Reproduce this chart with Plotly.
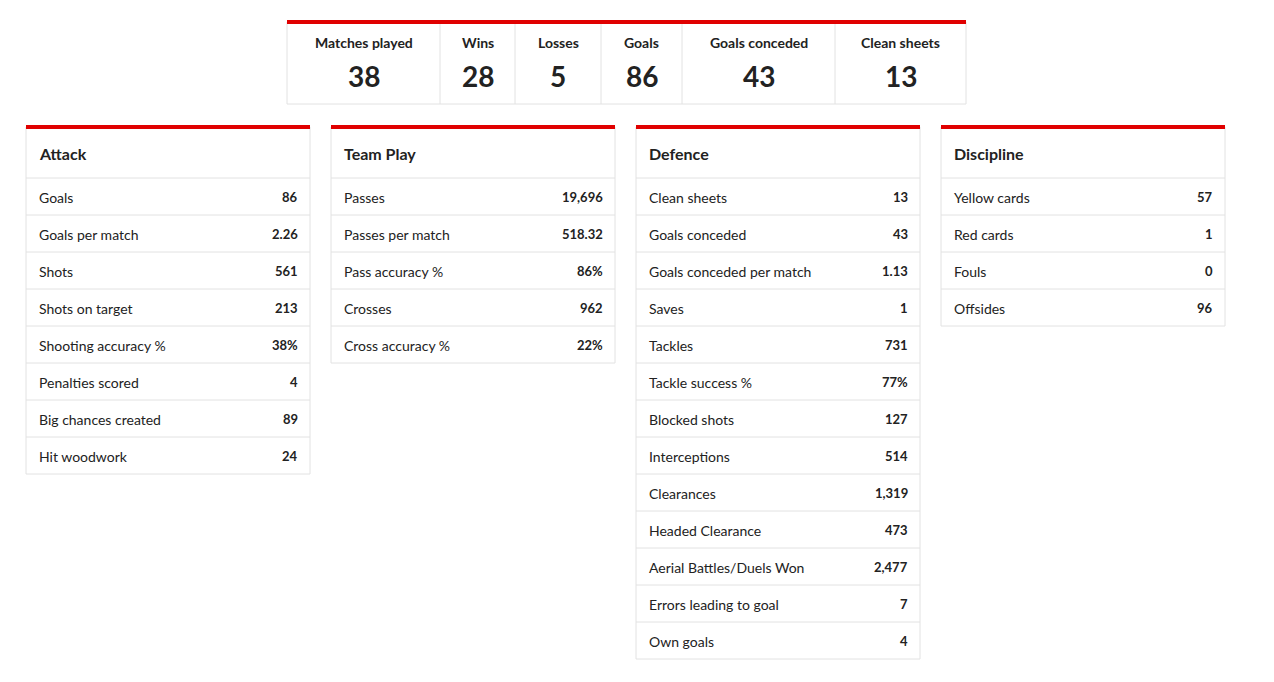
import plotly.graph_objects as go

W, H = 1274, 682

summary_labels = ["Matches played", "Wins", "Losses", "Goals", "Goals conceded", "Clean sheets"]
summary_values = ["38", "28", "5", "86", "43", "13"]
summary_edges = [279, 432, 507, 593, 674, 827, 958]

panel_titles = ["Attack", "Team Play", "Defence", "Discipline"]
attack_labels = ["Goals", "Goals per match", "Shots", "Shots on target", "Shooting accuracy %",
                 "Penalties scored", "Big chances created", "Hit woodwork"]
attack_values = ["86", "2.26", "561", "213", "38%", "4", "89", "24"]
teamplay_labels = ["Passes", "Passes per match", "Pass accuracy %", "Crosses", "Cross accuracy %"]
teamplay_values = ["19,696", "518.32", "86%", "962", "22%"]
defence_labels = ["Clean sheets", "Goals conceded", "Goals conceded per match", "Saves", "Tackles",
                  "Tackle success %", "Blocked shots", "Interceptions", "Clearances",
                  "Headed Clearance", "Aerial Battles/Duels Won", "Errors leading to goal", "Own goals"]
defence_values = ["13", "43", "1.13", "1", "731", "77%", "127", "514", "1,319", "473", "2,477", "7", "4"]
discipline_labels = ["Yellow cards", "Red cards", "Fouls", "Offsides"]
discipline_values = ["57", "1", "0", "96"]

panels = [(attack_labels, attack_values), (teamplay_labels, teamplay_values),
          (defence_labels, defence_values), (discipline_labels, discipline_values)]
panel_x = [18, 323, 628, 933]
panel_w = 284

RED = "#e00000"
GRID = "#e2e2e2"
TXT = "#222222"
FONT = "Lato"

fig = go.Figure()
shapes = []
ann = []

# summary strip
shapes.append(dict(type="rect", x0=279, x1=958, y0=14, y1=96, line=dict(color=GRID, width=1)))
shapes.append(dict(type="rect", x0=279, x1=958, y0=12, y1=16, fillcolor=RED, line_width=0))
for i, (lab, val) in enumerate(zip(summary_labels, summary_values)):
    x0, x1 = summary_edges[i], summary_edges[i + 1]
    if i > 0:
        shapes.append(dict(type="line", x0=x0, x1=x0, y0=16, y1=96, line=dict(color=GRID, width=1)))
    cx = (x0 + x1) / 2
    ann.append(dict(x=cx, y=34, text=f"<b>{lab}</b>", font=dict(size=14, color=TXT, family=FONT)))
    ann.append(dict(x=cx, y=68, text=f"<b>{val}</b>", font=dict(size=28, color=TXT, family=FONT)))

# stat panels
for px, title, (labs, vals) in zip(panel_x, panel_titles, panels):
    bottom = 170 + 37 * len(labs)
    shapes.append(dict(type="rect", x0=px, x1=px + panel_w, y0=119, y1=bottom, line=dict(color=GRID, width=1)))
    shapes.append(dict(type="rect", x0=px, x1=px + panel_w, y0=117, y1=121, fillcolor=RED, line_width=0))
    ann.append(dict(x=px + 11, y=145, text=f"<b>{title}</b>", xanchor="left",
                    font=dict(size=16, color=TXT, family=FONT)))
    for j, (lab, val) in enumerate(zip(labs, vals)):
        ytop = 170 + 37 * j
        shapes.append(dict(type="line", x0=px, x1=px + panel_w, y0=ytop, y1=ytop, line=dict(color=GRID, width=1)))
        ann.append(dict(x=px + 11, y=ytop + 19, text=lab, xanchor="left",
                        font=dict(size=14, color=TXT, family=FONT)))
        ann.append(dict(x=px + panel_w - 10, y=ytop + 19, text=f"<b>{val}</b>", xanchor="right",
                        font=dict(size=13, color=TXT, family=FONT)))

for a in ann:
    a.update(xref="x", yref="y", showarrow=False)
    a.setdefault("xanchor", "center")

fig.update_layout(
    width=W, height=H, margin=dict(l=0, r=0, t=0, b=0),
    paper_bgcolor="white", plot_bgcolor="white",
    xaxis=dict(range=[0, W], visible=False, fixedrange=True),
    yaxis=dict(range=[H, 0], visible=False, fixedrange=True),
    shapes=shapes, annotations=ann, showlegend=False,
)
fig.write_html("out.html")
